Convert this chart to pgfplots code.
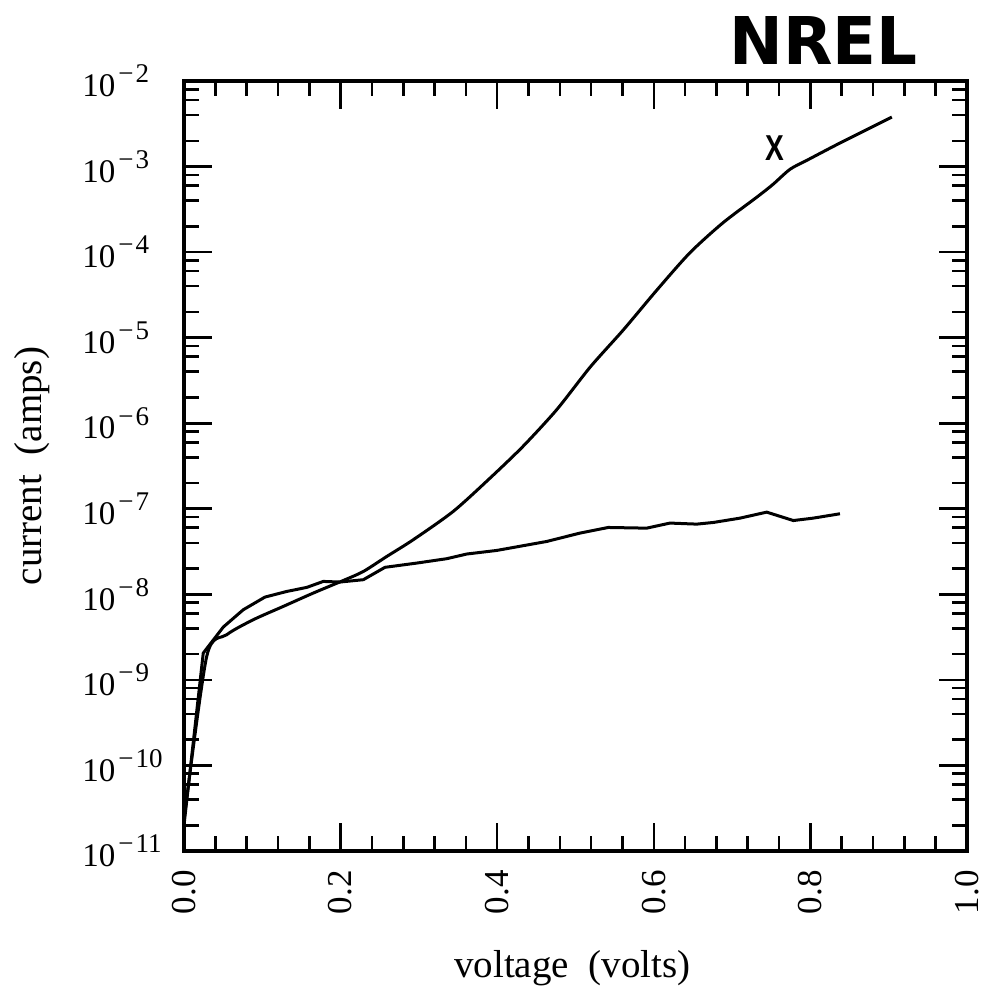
\documentclass[border=0pt]{standalone}
\usepackage{fontspec}
\setmainfont{Liberation Serif}
\newfontfamily\logofont{DejaVu Sans}
\newfontfamily\labelsans{Liberation Sans}
\usepackage{graphicx}
\usepackage{pgfplots}
\pgfplotsset{compat=1.18}
\newcommand\dec[1]{{\fontsize{16.5}{17}\selectfont 10\kern1.5pt\raisebox{0.42em}{\fontsize{13.5}{14}\selectfont −\kern1pt#1}}}
\begin{document}
\begin{tikzpicture}[x=1pt,y=1pt]
\path[use as bounding box] (-92,-67.5) rectangle (401,425.5);
\begin{axis}[
  at={(0,0)}, anchor=south west,
  scale only axis, width=391.5pt, height=385pt,
  xmin=0, xmax=1, ymode=log, ymin=1e-11, ymax=1e-2,
  clip=false,
  axis line style={line width=2pt, black},
  tick align=inside,
  tick style={line width=1.3pt, black},
  major tick length=14pt, minor tick length=7.5pt,
  xtick={0,0.2,0.4,0.6,0.8,1.0},
  xticklabels={0.0,0.2,0.4,0.6,0.8,1.0},
  minor x tick num=4,
  xticklabel style={rotate=90, anchor=east, inner xsep=9.5pt, inner ysep=0pt, font=\fontsize{17.5}{18}\selectfont},
  ytick={1e-11,1e-10,1e-9,1e-8,1e-7,1e-6,1e-5,1e-4,1e-3,1e-2},
  yticklabels={\dec{11},\dec{10},\dec{9},\dec{8},\dec{7},\dec{6},\dec{5},\dec{4},\dec{3},\dec{2}},
  minor ytick={2e-11,4e-11,6e-11,8e-11,2e-10,4e-10,6e-10,8e-10,2e-9,4e-9,6e-9,8e-9,2e-8,4e-8,6e-8,8e-8,2e-7,4e-7,6e-7,8e-7,2e-6,4e-6,6e-6,8e-6,2e-5,4e-5,6e-5,8e-5,2e-4,4e-4,6e-4,8e-4,2e-3,4e-3,6e-3,8e-3},
  yticklabel style={anchor=west, xshift=-51pt, inner sep=0pt},
  xlabel={voltage\ \ (volts)},
  xlabel style={at={(axis description cs:0.496,-0.152)}, anchor=center, font=\fontsize{19.5}{20}\selectfont},
  ylabel={current\ \ (amps)},
  ylabel style={at={(axis description cs:-0.194,0.5)}, anchor=center, font=\fontsize{19.5}{20}\selectfont},
]
% steeply rising curve (marked X)
\addplot[black, line width=1.5pt, no marks, smooth, tension=0.45] coordinates {
(0.0,2.3e-11) (0.029,1.88e-9) (0.0545,3.37e-9) (0.0885,5.05e-9) (0.1268,7.23e-9)
(0.1651,1.035e-8) (0.2034,1.452e-8) (0.229,1.85e-8) (0.2589,2.77e-8)
(0.2928,4.35e-8) (0.3439,9.33e-8) (0.391,2.29e-7) (0.433,5.37e-7) (0.476,1.44e-6)
(0.519,4.56e-6) (0.561,1.23e-5) (0.604,3.61e-5) (0.646,9.8e-5) (0.688,2.19e-4)
(0.732,4.42e-4) (0.752,6.17e-4) (0.774,9.3e-4) (0.796,1.19e-3) (0.838,1.89e-3)
(0.904,3.79e-3)
};
% flatter curve
\addplot[black, line width=1.5pt, no marks] coordinates {
(0.0,2.0e-11) (0.0246,2.06e-9) (0.0502,4.15e-9) (0.0757,6.61e-9) (0.1034,9.29e-9)
(0.1312,1.081e-8) (0.1567,1.205e-8) (0.1779,1.416e-8) (0.1992,1.393e-8) (0.229,1.483e-8)
(0.2567,2.07e-8) (0.2972,2.32e-8) (0.3355,2.61e-8) (0.3611,2.96e-8) (0.3994,3.26e-8)
(0.4632,4.15e-8) (0.5057,5.20e-8) (0.5419,6.05e-8) (0.5909,5.94e-8) (0.6207,6.81e-8)
(0.6548,6.62e-8) (0.676,6.92e-8) (0.7101,7.78e-8) (0.7442,9.14e-8) (0.7782,7.29e-8)
(0.8037,7.78e-8) (0.8378,8.75e-8)
};
\node[font=\labelsans\fontsize{18}{18}\selectfont\bfseries] at (axis cs:0.755,1.65e-3) {\scalebox{0.78}[1]{X}};
\node at (axis description cs:0.817,1.052) {\resizebox{94pt}{24pt}{\logofont\bfseries NREL}};
\end{axis}
\end{tikzpicture}
\end{document}
